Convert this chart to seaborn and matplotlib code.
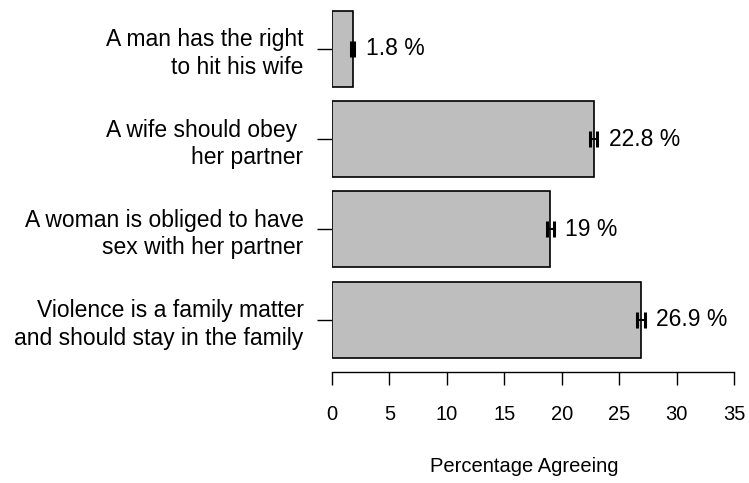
import numpy as np
import pandas as pd
import matplotlib
matplotlib.use("Agg")
import matplotlib.pyplot as plt
import seaborn as sns

# ── data ──
statements = [
    "A man has the right\nto hit his wife",
    "A wife should obey \nher partner",
    "A woman is obliged to have\nsex with her partner",
    "Violence is a family matter\nand should stay in the family",
]
pct_agree = [1.8, 22.8, 19.0, 26.9]
ci_low = [1.65, 22.5, 18.7, 26.57]
ci_high = [1.95, 23.1, 19.3, 27.23]
value_labels = ["1.8 %", "22.8 %", "19 %", "26.9 %"]
x_ticks = [0, 5, 10, 15, 20, 25, 30, 35]

df = pd.DataFrame({"statement": statements, "pct": pct_agree})

sns.set_style("white")
plt.rcParams["font.family"] = ["Liberation Sans", "DejaVu Sans"]
plt.rcParams["text.color"] = "black"
plt.rcParams["axes.labelcolor"] = "black"
plt.rcParams["xtick.color"] = "black"
plt.rcParams["ytick.color"] = "black"

W, H = 749, 483
fig = plt.figure(figsize=(W / 100, H / 100), dpi=100)
# axes placed in pixel terms: x 0..35 spans px 332..734, bottom spine at px 372
ax = fig.add_axes([332 / W, (H - 372) / H, (734 - 332) / W, 372 / H])

sns.barplot(data=df, x="pct", y="statement", orient="h", color="#BEBEBE",
            saturation=1, edgecolor="black", linewidth=1.2, width=0.843, ax=ax)

ypos = np.arange(len(statements))
err = [np.array(pct_agree) - np.array(ci_low), np.array(ci_high) - np.array(pct_agree)]
ax.errorbar(pct_agree, ypos, xerr=err, fmt="none", ecolor="black",
            elinewidth=1.5, capsize=6, capthick=2.2)

for y, hi, lab in zip(ypos, ci_high, value_labels):
    ax.text(hi + 1.0, y, lab, ha="left", va="center", fontsize=16.5, color="black")

ax.set_xlim(0, 35)
ax.set_ylim(3.581, -0.543)
ax.set_xticks(x_ticks)
ax.set_xticklabels([str(t) for t in x_ticks], fontsize=14.5)
ax.tick_params(axis="x", bottom=True, length=9.5, width=1, pad=14, colors="black")
ax.tick_params(axis="y", left=True, length=10.5, width=1, pad=10, labelsize=16.5,
               colors="black")
for lab in ax.get_yticklabels():
    lab.set_linespacing(1.25)
    lab.set_ha("right")

for side in ["top", "right", "left"]:
    ax.spines[side].set_visible(False)
ax.spines["bottom"].set_linewidth(1)
ax.spines["bottom"].set_color("black")

ax.set_ylabel("")
ax.set_xlabel("Percentage Agreeing", fontsize=14.5, color="black")
ax.xaxis.set_label_coords((524 - 332) / (734 - 332), (372 - 467) / 372)
ax.xaxis.label.set_va("center")

fig.savefig("out.png", dpi=100)
